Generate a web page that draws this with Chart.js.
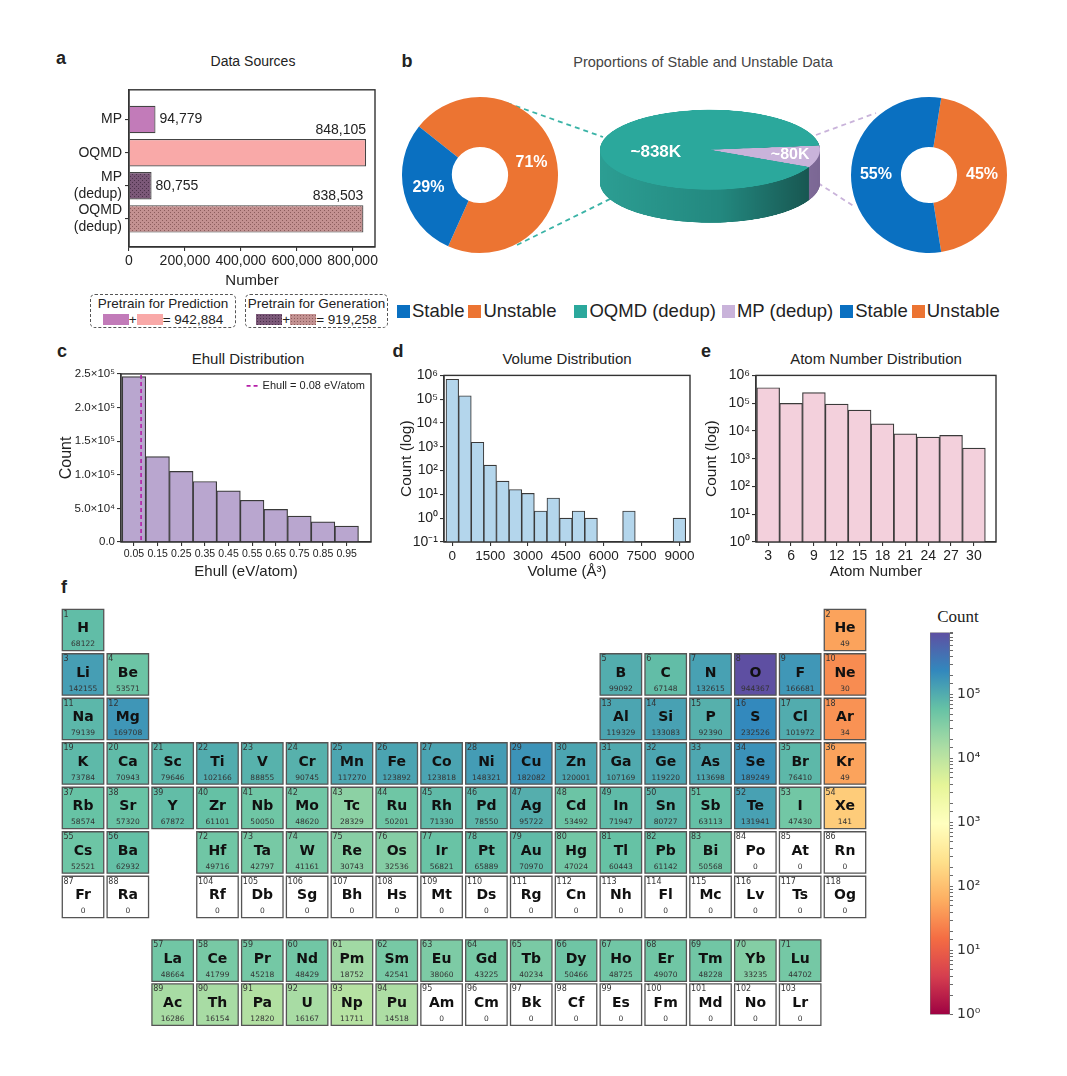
<!DOCTYPE html>
<html>
<head>
<meta charset="utf-8">
<script src="https://cdn.jsdelivr.net/npm/chart.js@4.4.1/dist/chart.umd.min.js"></script>
<style>
  body { margin: 0; background: #fff; width: 1067px; height: 1076px; position: relative; overflow: hidden;
         font-family: "Liberation Sans", Arial, sans-serif; color: #222; }
  canvas { position: absolute; }
  .t { position: absolute; white-space: nowrap; transform: translate(-50%, -50%); }
  .box { position: absolute; border: 1.3px dashed #555; border-radius: 5px; text-align: center;
         font-size: 13.5px; line-height: 15.5px; padding-top: 1px; box-sizing: border-box; }
  .sw { display: inline-block; width: 26px; height: 11px; vertical-align: -1px; }
  .leg { position: absolute; left: 397px; top: 300px; display: flex; align-items: center; font-size: 18.5px; white-space: nowrap; }
  .leg i { display: inline-block; width: 13px; height: 13px; margin-right: 2px; }
</style>
</head>
<body>
<div class="box" id="box1" style="left:90px;top:294px;width:146px;height:34px"></div>
<div class="box" id="box2" style="left:245px;top:294px;width:143px;height:34px"></div>
<div class="leg" id="legB"></div>
<script>
// ---- data ----
const sourceLabels = ['MP', 'OQMD', 'MP (dedup)', 'OQMD (dedup)'];
const sourceCounts = [94779, 848105, 80755, 838503];
const sourceTicks = [0, 200000, 400000, 600000, 800000];

const oqmdLabels = ['Unstable', 'Stable'];
const oqmdShares = [71, 29];
const mergeLabels = ['MP (dedup)', 'OQMD (dedup)'];
const mergeCounts = [80755, 838503];
const mergeText = ['~80K', '~838K'];
const mpLabels = ['Unstable', 'Stable'];
const mpShares = [45, 55];

const ehullCenters = [0.05, 0.15, 0.25, 0.35, 0.45, 0.55, 0.65, 0.75, 0.85, 0.95];
const ehullCounts = [246000, 127000, 105000, 90000, 76000, 62000, 48500, 38500, 30000, 23500];
const ehullTicks = [0, 50000, 100000, 150000, 200000, 250000];
const ehullTickLabels = ['0.0', '5.0×10⁴', '1.0×10⁵', '1.5×10⁵', '2.0×10⁵', '2.5×10⁵'];
const ehullCut = 0.08;

const volumeCenters = [0, 500, 1000, 1500, 2000, 2500, 3000, 3500, 4000, 4500, 5000, 5500, 7000, 9000];
const volumeCounts = [690000, 140000, 1550, 170, 36, 16, 11, 2, 7, 1, 2, 1, 2, 1];
const volumeTicks = [0, 1500, 3000, 4500, 6000, 7500, 9000];
const volumeExp = [-1, 0, 1, 2, 3, 4, 5, 6];

const atomCenters = [3, 6, 9, 12, 15, 18, 21, 24, 27, 30];
const atomCounts = [360000, 98000, 240000, 93000, 56000, 18000, 7900, 6000, 6900, 2400];
const atomExp = [0, 1, 2, 3, 4, 5, 6];

const elementSymbols = ['H','He','Li','Be','B','C','N','O','F','Ne','Na','Mg','Al','Si','P','S','Cl','Ar',
  'K','Ca','Sc','Ti','V','Cr','Mn','Fe','Co','Ni','Cu','Zn','Ga','Ge','As','Se','Br','Kr',
  'Rb','Sr','Y','Zr','Nb','Mo','Tc','Ru','Rh','Pd','Ag','Cd','In','Sn','Sb','Te','I','Xe',
  'Cs','Ba','La','Ce','Pr','Nd','Pm','Sm','Eu','Gd','Tb','Dy','Ho','Er','Tm','Yb','Lu',
  'Hf','Ta','W','Re','Os','Ir','Pt','Au','Hg','Tl','Pb','Bi','Po','At','Rn',
  'Fr','Ra','Ac','Th','Pa','U','Np','Pu','Am','Cm','Bk','Cf','Es','Fm','Md','No','Lr',
  'Rf','Db','Sg','Bh','Hs','Mt','Ds','Rg','Cn','Nh','Fl','Mc','Lv','Ts','Og'];
const elementCounts = [68122, 49, 142155, 53571, 99092, 67148, 132615, 944367, 166681, 30, 79139, 169708,
  119329, 133083, 92390, 232526, 101972, 34,
  73784, 70943, 79646, 102166, 88855, 90745, 117270, 123892, 123818, 148321, 182082, 120001,
  107169, 119220, 113698, 189249, 76410, 49,
  58574, 57320, 67872, 61101, 50050, 48620, 28329, 50201, 71330, 78550, 95722, 53492,
  71947, 80727, 63113, 131941, 47430, 141,
  52521, 62932, 48664, 41799, 45218, 48429, 18752, 42541, 38060, 43225, 40234, 50466,
  48725, 49070, 48228, 33235, 44702,
  49716, 42797, 41161, 30743, 32536, 56821, 65889, 70970, 47024, 60443, 61142, 50568, 0, 0, 0,
  0, 0, 16286, 16154, 12820, 16167, 11711, 14518, 0, 0, 0, 0, 0, 0, 0, 0, 0,
  0, 0, 0, 0, 0, 0, 0, 0, 0, 0, 0, 0, 0, 0, 0];
const colorbarExp = [0, 1, 2, 3, 4, 5];
const countMax = Math.max(...elementCounts);

// ---- helpers ----
Chart.defaults.animation = false;
Chart.defaults.responsive = false;
Chart.defaults.events = [];
Chart.defaults.plugins.legend.display = false;
Chart.defaults.plugins.tooltip.enabled = false;
Chart.defaults.font.family = '"Liberation Sans", Arial, sans-serif';
Chart.defaults.color = '#222';

const SUP = { '-': '⁻', '0': '⁰', '1': '¹', '2': '²', '3': '³', '4': '⁴', '5': '⁵', '6': '⁶', '7': '⁷', '8': '⁸', '9': '⁹' };
const pow10 = e => '10' + String(e).split('').map(c => SUP[c]).join('');

function makeCanvas(left, top, w, h) {
  const c = document.createElement('canvas');
  c.width = w; c.height = h;
  c.style.left = left + 'px'; c.style.top = top + 'px';
  c.style.width = w + 'px'; c.style.height = h + 'px';
  document.body.appendChild(c);
  return c;
}
function addText(str, x, y, css) {
  const d = document.createElement('div');
  d.className = 't';
  d.textContent = str;
  d.style.left = x + 'px'; d.style.top = y + 'px';
  Object.assign(d.style, css || {});
  document.body.appendChild(d);
}
function dotPattern(base, dot) {
  const c = document.createElement('canvas');
  c.width = 4; c.height = 4;
  const g = c.getContext('2d');
  g.fillStyle = base; g.fillRect(0, 0, 4, 4);
  g.fillStyle = dot; g.fillRect(0, 0, 1, 1); g.fillRect(2, 2, 1, 1);
  return g.createPattern(c, 'repeat');
}
const spectralStops = ['#9e0142', '#d53e4f', '#f46d43', '#fdae61', '#fee08b', '#ffffbf', '#e6f598', '#abdda4', '#66c2a5', '#3288bd', '#5e4fa2'];
function hexRgb(h) { return [1, 3, 5].map(i => parseInt(h.substr(i, 2), 16)); }
function spectral(t) {
  t = Math.min(1, Math.max(0, t));
  const p = t * 10, i = Math.min(9, Math.floor(p)), f = p - i;
  const a = hexRgb(spectralStops[i]), b = hexRgb(spectralStops[i + 1]);
  return 'rgb(' + a.map((v, k) => Math.round(v + (b[k] - v) * f)).join(',') + ')';
}
function countColor(n) {
  if (!n) return '#ffffff';
  return spectral(Math.log10(n) / Math.log10(countMax));
}
function tablePos(z) {
  if (z === 1) return [1, 1];
  if (z === 2) return [18, 1];
  if (z <= 4) return [z - 2, 2];
  if (z <= 10) return [z + 8, 2];
  if (z <= 12) return [z - 10, 3];
  if (z <= 18) return [z, 3];
  if (z <= 36) return [z - 18, 4];
  if (z <= 54) return [z - 36, 5];
  if (z <= 56) return [z - 54, 6];
  if (z <= 71) return [z - 54, 8.43];
  if (z <= 86) return [z - 68, 6];
  if (z <= 88) return [z - 86, 7];
  if (z <= 103) return [z - 86, 9.42];
  return [z - 100, 7];
}
function axisLook() {
  return {
    offset: false,
    border: { display: true, color: '#333', width: 1.3 },
    grid: { display: true, drawOnChartArea: false, drawTicks: true, tickLength: 4, color: '#333', lineWidth: 1.1, offset: false }
  };
}

const frame = {
  id: 'frame',
  afterDraw(chart) {
    const { left, top, right, bottom } = chart.chartArea;
    const ctx = chart.ctx;
    ctx.save();
    ctx.strokeStyle = '#333'; ctx.lineWidth = 1.4;
    ctx.strokeRect(left, top, right - left, bottom - top);
    ctx.restore();
  }
};

// ---- text ----
const bold = { fontWeight: 'bold', fontSize: '18px' };
addText('a', 61, 58, bold);
addText('b', 407, 61, bold);
addText('c', 62, 351, bold);
addText('d', 398, 351, bold);
addText('e', 706, 351, bold);
addText('f', 64, 587, bold);
addText('Data Sources', 253, 61, { fontSize: '14px' });
addText('Proportions of Stable and Unstable Data', 703, 62, { fontSize: '14.5px', color: '#444' });
addText('Ehull Distribution', 248, 358, { fontSize: '15px' });
addText('Volume Distribution', 567, 358, { fontSize: '15px' });
addText('Atom Number Distribution', 876, 358, { fontSize: '15px' });
addText('Count', 958, 617, { fontSize: '17px', fontFamily: '"Liberation Serif", "DejaVu Serif", serif' });

// ---- panel a ----
const barFills = ['#c27bb9', '#f9a9a8', dotPattern('#7b5878', '#4a3049'), dotPattern('#c39191', '#8b5c5c')];
const barValues = {
  id: 'barValues',
  afterDatasetsDraw(chart) {
    const ctx = chart.ctx;
    ctx.save();
    ctx.font = '14px "Liberation Sans", Arial, sans-serif';
    ctx.fillStyle = '#222';
    chart.getDatasetMeta(0).data.forEach((bar, i) => {
      const txt = sourceCounts[i].toLocaleString('en-US');
      if (sourceCounts[i] > 400000) {
        ctx.textAlign = 'right'; ctx.textBaseline = 'bottom';
        ctx.fillText(txt, bar.x, bar.y - bar.height / 2 - 2);
      } else {
        ctx.textAlign = 'left'; ctx.textBaseline = 'middle';
        ctx.fillText(txt, bar.x + 4, bar.y);
      }
    });
    ctx.restore();
  }
};
new Chart(makeCanvas(60, 70, 330, 222), {
  type: 'bar',
  data: {
    datasets: [{
      data: sourceCounts.map((v, i) => ({ x: v, y: i })),
      backgroundColor: barFills, borderColor: '#444', borderWidth: 1.2,
      barPercentage: 0.83, categoryPercentage: 1
    }]
  },
  options: {
    indexAxis: 'y',
    layout: { padding: { top: 4, right: 15, left: 0, bottom: 0 } },
    scales: {
      x: Object.assign(axisLook(), {
        type: 'linear', min: 0, max: 880000,
        afterBuildTicks: s => { s.ticks = sourceTicks.map(v => ({ value: v })); },
        afterFit: s => { s.height = 45; },
        ticks: { callback: v => v.toLocaleString('en-US'), font: { size: 14 }, maxRotation: 0, autoSkip: false, padding: 2 },
        title: { display: true, text: 'Number', font: { size: 15 }, padding: { top: 2, bottom: 2 } }
      }),
      y: Object.assign(axisLook(), {
        type: 'linear', min: -0.9, max: 3.85, reverse: true,
        afterBuildTicks: s => { s.ticks = sourceLabels.map((_, i) => ({ value: i })); },
        afterFit: s => { s.width = 69; },
        ticks: {
          font: { size: 14 }, padding: 3, autoSkip: false,
          callback: v => { const l = sourceLabels[v]; return l.includes(' ') ? l.split(' ') : l; }
        }
      })
    }
  },
  plugins: [frame, barValues]
});

const predTotal = (sourceCounts[0] + sourceCounts[1]).toLocaleString('en-US');
const genTotal = (sourceCounts[2] + sourceCounts[3]).toLocaleString('en-US');
document.getElementById('box1').innerHTML = 'Pretrain for Prediction<br>' +
  '<span class="sw" style="background:#c27bb9"></span>+<span class="sw" style="background:#f9a9a8"></span>= ' + predTotal;
const dots = (b, d) => 'background:' + b + ' radial-gradient(' + d + ' 0.8px, transparent 1px) 0 0/3px 3px';
document.getElementById('box2').innerHTML = 'Pretrain for Generation<br>' +
  '<span class="sw" style="' + dots('#7b5878', '#4a3049') + '"></span>+<span class="sw" style="' +
  dots('#c39191', '#8b5c5c') + '"></span>= ' + genTotal;

// ---- panel b ----
const BLUE = '#0a70c1', ORANGE = '#ec7432', TEAL = '#2ba89c', LILAC = '#c9b3da';
(function connectors() {
  const c = makeCanvas(390, 80, 640, 220);
  const g = c.getContext('2d');
  g.lineWidth = 1.8; g.setLineDash([5, 4]);
  const seg = (col, a, b) => { g.strokeStyle = col; g.beginPath(); g.moveTo(a[0] - 390, a[1] - 80); g.lineTo(b[0] - 390, b[1] - 80); g.stroke(); };
  seg('#3ab3a6', [507, 103], [603, 137]);
  seg('#3ab3a6', [517, 245], [612, 198]);
  seg(LILAC, [816, 135], [876, 113]);
  seg(LILAC, [818, 183], [855, 207]);
})();

const sliceLabels = {
  id: 'sliceLabels',
  afterDatasetsDraw(chart, args, o) {
    const ctx = chart.ctx;
    ctx.save();
    ctx.fillStyle = '#fff';
    ctx.textAlign = 'center'; ctx.textBaseline = 'middle';
    chart.getDatasetMeta(0).data.forEach((arc, i) => {
      const mid = (arc.startAngle + arc.endAngle) / 2;
      const r = arc.innerRadius + (arc.outerRadius - arc.innerRadius) * o.factor[i];
      ctx.save();
      ctx.translate(arc.x + Math.cos(mid) * r, arc.y + Math.sin(mid) * r + (o.dy ? o.dy[i] : 0));
      ctx.scale(1, 1 / (o.squash || 1));
      ctx.font = o.font[i];
      ctx.fillText(o.text[i], 0, 0);
      ctx.restore();
    });
    ctx.restore();
  }
};
function donut(left, top, size, labels, shares, rot) {
  new Chart(makeCanvas(left, top, size, size), {
    type: 'doughnut',
    data: { labels, datasets: [{ data: shares, backgroundColor: labels.map(l => l === 'Stable' ? BLUE : ORANGE), borderWidth: 0 }] },
    options: {
      cutout: '36%', rotation: rot, layout: { padding: 2 },
      plugins: { sliceLabels: { text: shares.map(s => s + '%'), factor: [0.5, 0.5], font: ['bold 16px "Liberation Sans", Arial', 'bold 16px "Liberation Sans", Arial'] } }
    },
    plugins: [sliceLabels]
  });
}
donut(400, 95, 160, oqmdLabels, oqmdShares, -51.5);
donut(849, 95, 160, mpLabels, mpShares, 9);

const SQUASH = 0.3636, DEPTH = 91;
const pieSide = {
  id: 'pieSide',
  beforeDatasetsDraw(chart) {
    const ctx = chart.ctx;
    const arcs = chart.getDatasetMeta(0).data;
    const cx = arcs[0].x, cy = arcs[0].y, r = arcs[0].outerRadius;
    const grads = [['#a58fbe', '#9882b2', '#7b6794'], ['#2c9e93', '#23887f', '#17514c']].map(([a, m, b]) => {
      const gr = ctx.createLinearGradient(cx - r, 0, cx + r, 0);
      gr.addColorStop(0, a); gr.addColorStop(0.55, m); gr.addColorStop(1, b);
      return gr;
    });
    ctx.save();
    for (let d = DEPTH; d >= 1; d--) {
      arcs.forEach((arc, i) => {
        ctx.fillStyle = grads[i];
        ctx.beginPath();
        ctx.moveTo(cx, cy + d);
        ctx.arc(cx, cy + d, r, arc.startAngle, arc.endAngle);
        ctx.closePath();
        ctx.fill();
      });
    }
    ctx.restore();
  }
};
const pieCanvas = makeCanvas(595, 107, 230, 330);
pieCanvas.style.transformOrigin = '0 0';
pieCanvas.style.transform = 'scaleY(' + SQUASH + ')';
new Chart(pieCanvas, {
  type: 'pie',
  data: { labels: mergeLabels, datasets: [{ data: mergeCounts, backgroundColor: [LILAC, TEAL], borderWidth: 0 }] },
  options: {
    rotation: 84,
    layout: { padding: { left: 5, right: 5, top: 5, bottom: 100 } },
    plugins: {
      sliceLabels: {
        text: mergeText, factor: [0.74, 0.5], dy: [0, 16], squash: SQUASH,
        font: ['bold 16px "Liberation Sans", Arial', 'bold 17px "Liberation Sans", Arial']
      }
    }
  },
  plugins: [pieSide, sliceLabels]
});

const legB = [['Stable', BLUE, 4], ['Unstable', ORANGE, 18], ['OQMD (dedup)', TEAL, 6], ['MP (dedup)', LILAC, 7], ['Stable', BLUE, 4], ['Unstable', ORANGE, 0]];
document.getElementById('legB').innerHTML = legB.map(([t, c, m]) =>
  '<span style="display:flex;align-items:center;margin-right:' + m + 'px"><i style="background:' + c + '"></i>' + t + '</span>').join('');

// ---- panel c ----
const ehullLine = {
  id: 'ehullLine',
  afterDatasetsDraw(chart) {
    const ctx = chart.ctx, ca = chart.chartArea;
    const x = chart.scales.x.getPixelForValue(ehullCut);
    ctx.save();
    ctx.strokeStyle = '#b51fa8'; ctx.lineWidth = 1.6; ctx.setLineDash([4, 3]);
    ctx.beginPath(); ctx.moveTo(x, ca.top + 1); ctx.lineTo(x, ca.bottom); ctx.stroke();
    ctx.font = '11px "Liberation Sans", Arial';
    const txt = 'Ehull = ' + ehullCut + ' eV/atom';
    const w = ctx.measureText(txt).width;
    const tx = ca.right - 6 - w, ty = ca.top + 12;
    ctx.beginPath(); ctx.moveTo(tx - 16, ty); ctx.lineTo(tx - 3, ty); ctx.stroke();
    ctx.fillStyle = '#222'; ctx.textBaseline = 'middle';
    ctx.fillText(txt, tx, ty);
    ctx.restore();
  }
};
new Chart(makeCanvas(55, 365, 325, 219), {
  type: 'bar',
  data: {
    datasets: [{
      data: ehullCenters.map((x, i) => ({ x, y: ehullCounts[i] })),
      backgroundColor: '#b9a6cf', borderColor: '#3a3a3a', borderWidth: 1.2,
      barPercentage: 1, categoryPercentage: 1
    }]
  },
  options: {
    layout: { padding: { top: 7, right: 9 } },
    scales: {
      x: Object.assign(axisLook(), {
        type: 'linear', min: -0.005, max: 1.053,
        afterBuildTicks: s => { s.ticks = ehullCenters.map(v => ({ value: v })); },
        afterFit: s => { s.height = 42; },
        ticks: { callback: v => v.toFixed(2), font: { size: 10.5 }, maxRotation: 0, autoSkip: false, padding: 2 },
        title: { display: true, text: 'Ehull (eV/atom)', font: { size: 15 }, padding: { top: 0, bottom: 3 } }
      }),
      y: Object.assign(axisLook(), {
        type: 'linear', min: 0, max: 250000,
        afterBuildTicks: s => { s.ticks = ehullTicks.map(v => ({ value: v })); },
        afterFit: s => { s.width = 66; },
        ticks: { callback: (v, i) => ehullTickLabels[i], font: { size: 11.5 }, padding: 2 },
        title: { display: true, text: 'Count', font: { size: 16 }, padding: { top: 2, bottom: 0 } }
      })
    }
  },
  plugins: [frame, ehullLine]
});

// ---- panel d ----
new Chart(makeCanvas(395, 365, 305, 219), {
  type: 'bar',
  data: {
    datasets: [{
      data: volumeCenters.map((x, i) => ({ x, y: volumeCounts[i] })),
      backgroundColor: '#b4d6ec', borderColor: '#3a3a3a', borderWidth: 1.1,
      barPercentage: 1, categoryPercentage: 1
    }]
  },
  options: {
    layout: { padding: { top: 7, right: 10 } },
    scales: {
      x: Object.assign(axisLook(), {
        type: 'linear', min: -330, max: 9420,
        afterBuildTicks: s => { s.ticks = volumeTicks.map(v => ({ value: v })); },
        afterFit: s => { s.height = 42; },
        ticks: { callback: v => String(v), font: { size: 13.5 }, maxRotation: 0, autoSkip: false, padding: 2 },
        title: { display: true, text: 'Volume (Å³)', font: { size: 15 }, padding: { top: 0, bottom: 3 } }
      }),
      y: Object.assign(axisLook(), {
        type: 'logarithmic', min: 0.1, max: 1e6,
        afterBuildTicks: s => { s.ticks = volumeExp.map(e => ({ value: Math.pow(10, e) })); },
        afterFit: s => { s.width = 49; },
        ticks: { callback: (v, i) => pow10(volumeExp[i]), font: { size: 14 }, padding: 2 },
        title: { display: true, text: 'Count (log)', font: { size: 15.5 }, padding: { top: 2, bottom: 0 } }
      })
    }
  },
  plugins: [frame]
});

// ---- panel e ----
new Chart(makeCanvas(700, 365, 310, 219), {
  type: 'bar',
  data: {
    datasets: [{
      data: atomCenters.map((x, i) => ({ x, y: atomCounts[i] })),
      backgroundColor: '#f3d0dc', borderColor: '#3a3a3a', borderWidth: 1.2,
      barPercentage: 1, categoryPercentage: 1
    }]
  },
  options: {
    layout: { padding: { top: 7, right: 14 } },
    scales: {
      x: Object.assign(axisLook(), {
        type: 'linear', min: 1.4, max: 32.9,
        afterBuildTicks: s => { s.ticks = atomCenters.map(v => ({ value: v })); },
        afterFit: s => { s.height = 42; },
        ticks: { font: { size: 14 }, maxRotation: 0, autoSkip: false, padding: 2 },
        title: { display: true, text: 'Atom Number', font: { size: 15 }, padding: { top: 0, bottom: 3 } }
      }),
      y: Object.assign(axisLook(), {
        type: 'logarithmic', min: 1, max: 1e6,
        afterBuildTicks: s => { s.ticks = atomExp.map(e => ({ value: Math.pow(10, e) })); },
        afterFit: s => { s.width = 56; },
        ticks: { callback: (v, i) => pow10(atomExp[i]), font: { size: 14 }, padding: 2 },
        title: { display: true, text: 'Count (log)', font: { size: 15.5 }, padding: { top: 2, bottom: 0 } }
      })
    }
  },
  plugins: [frame]
});

// ---- panel f: periodic table ----
const cellText = {
  id: 'cellText',
  afterDatasetsDraw(chart) {
    const ctx = chart.ctx;
    ctx.save();
    chart.getDatasetMeta(0).data.forEach((pt, i) => {
      const x = pt.x, y = pt.y;
      ctx.fillStyle = '#333';
      ctx.textAlign = 'left'; ctx.textBaseline = 'top';
      ctx.font = '8px "DejaVu Sans"';
      ctx.fillText(String(i + 1), x - 19.5, y - 19.5);
      ctx.fillStyle = '#111';
      ctx.textAlign = 'center'; ctx.textBaseline = 'middle';
      ctx.font = 'bold 14px "DejaVu Sans"';
      ctx.fillText(elementSymbols[i], x, y - 1.5);
      ctx.fillStyle = '#333';
      ctx.font = '7.5px "DejaVu Sans"';
      ctx.fillText(String(elementCounts[i]), x, y + 14.5);
    });
    ctx.restore();
  }
};
new Chart(makeCanvas(55, 600, 820, 430), {
  type: 'scatter',
  data: {
    datasets: [{
      data: elementSymbols.map((s, i) => { const p = tablePos(i + 1); return { x: p[0], y: p[1] }; }),
      pointStyle: 'rect', pointRadius: 29.3,
      pointBackgroundColor: elementCounts.map(countColor),
      pointBorderColor: '#555', pointBorderWidth: 1.3,
      clip: false
    }]
  },
  options: {
    layout: { autoPadding: false, padding: { left: 5.6, right: 7.6, top: 7.75, bottom: 4 } },
    scales: {
      x: { type: 'linear', min: 0.5, max: 18.5, display: false },
      y: { type: 'linear', min: 0.5, max: 9.9, reverse: true, display: false }
    }
  },
  plugins: [cellText]
});

// ---- colorbar ----
new Chart(makeCanvas(905, 620, 100, 407), {
  type: 'bar',
  data: {
    labels: ['Count'],
    datasets: [{
      data: [[1, countMax]],
      backgroundColor: c => {
        const ch = c.chart, y = ch.scales.y;
        if (!ch.chartArea || !y) return '#ccc';
        const g = ch.ctx.createLinearGradient(0, y.getPixelForValue(1), 0, y.getPixelForValue(countMax));
        for (let k = 0; k <= 20; k++) g.addColorStop(k / 20, spectral(k / 20));
        return g;
      },
      borderColor: '#777', borderWidth: 0.8, borderSkipped: false,
      barPercentage: 1, categoryPercentage: 1
    }]
  },
  options: {
    layout: { padding: { left: 25, top: 10, bottom: 7, right: 0 } },
    scales: {
      x: { display: false },
      y: {
        type: 'logarithmic', position: 'right', min: 1, max: countMax,
        afterFit: s => { s.width = 55; },
        border: { display: false },
        grid: { display: true, drawOnChartArea: false, drawTicks: true, tickLength: 3, color: '#444', lineWidth: 0.8 },
        ticks: {
          autoSkip: false, padding: 4, color: '#333', font: { family: '"DejaVu Sans"', size: 14 },
          callback: v => {
            const e = Math.log10(v);
            const r = Math.round(e);
            return Math.abs(e - r) < 1e-9 && colorbarExp.includes(r) ? pow10(r) : '';
          }
        }
      }
    }
  }
});
</script>
</body>
</html>
